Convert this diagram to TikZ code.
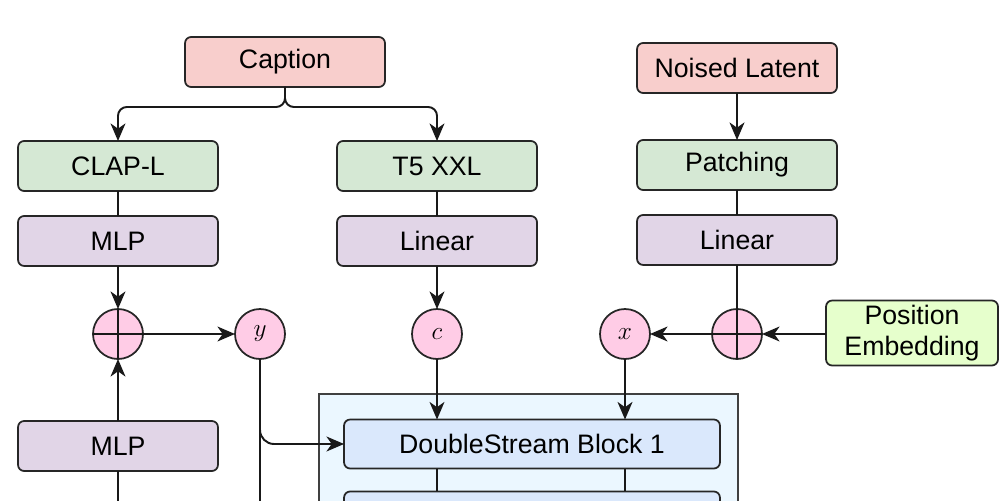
\documentclass[tikz,border=0pt]{standalone}
\usepackage{fontspec}
\setsansfont{Liberation Sans}
\usepackage{tikz}
\usetikzlibrary{arrows.meta,calc,positioning,shapes}
\definecolor{srcred}{HTML}{F8CECC}
\definecolor{encgreen}{HTML}{D5E8D4}
\definecolor{projpurple}{HTML}{E1D5E7}
\definecolor{varpink}{HTML}{FFCCE6}
\definecolor{poslime}{HTML}{E6FFCC}
\definecolor{blockblue}{HTML}{DAE8FC}
\definecolor{stackblue}{HTML}{EBF7FF}
\newdimen\hdim
\newdimen\wdim
\hdim=1cm
\wdim=4cm
\tikzstyle{element}=[
  draw=black!85,
  font={\fontsize{15.2}{18}\selectfont\sffamily},
  inner sep=0pt,
  minimum height=\hdim,
  minimum width=\wdim,
  outer sep=0pt,
  rectangle,
  rounded corners=3.5pt,
  text centered,
  line width=1pt,
]
\tikzstyle{source}=[element, fill=srcred]
\tikzstyle{encoder}=[element, fill=encgreen]
\tikzstyle{proj}=[element, fill=projpurple]
\tikzstyle{block}=[
  element,
  fill=blockblue,
  minimum width=7.52cm,
  minimum height=.98\hdim,
]
\tikzstyle{container}=[
  draw=black!75,
  fill=stackblue,
  inner sep=0pt,
  minimum width=8.38cm,
  minimum height=2.74cm,
  line width=1pt,
]
\tikzstyle{var}=[
  draw=black!85,
  circle,
  fill=varpink,
  font={\fontsize{15}{17}\selectfont},
  inner sep=0pt,
  minimum size=\hdim,
  outer sep=0pt,
  line width=1pt,
]
\tikzstyle{sum}=[var]
\tikzstyle{arrow}=[
  color=black!90,
  draw=black!90,
  line width=1.1pt,
]
\tikzstyle{flow}=[
  arrow,
  -{Stealth[length=10pt,width=8.5pt,inset=3pt]},
]
\tikzset{
  node distance=.5\hdim,
}

\begin{document}
\begin{tikzpicture}[x=0.02cm, y=-0.02cm]
      \useasboundingbox (0,0) rectangle (1000,500);
      \clip (0,0) rectangle (1000,500);
      %% caption branch
      \node (caption) [source] at (285,62) {Caption};
      \node (clap) [encoder] at (118,166) {CLAP-L};
      \node (mlpa) [proj, below=of clap] {MLP};
      \node (t5) [encoder] at (437,166) {T5 XXL};
      \node (lina) [proj, below=of t5] {Linear};
      %% latent branch
      \node (latent) [source] at (737,68) {Noised Latent};
      \node (patch) [encoder] at (737,165) {Patching};
      \node (linb) [proj, below=of patch] {Linear};
      %% conditioning
      \node (suma) [sum] at (118,334) {};
      \node (y) [var] at (260,334) {$y$};
      \node (c) [var] at (437,334) {$c$};
      \node (x) [var] at (625,334) {$x$};
      \node (sumb) [sum] at (737,334) {};
      \node (posemb) [element, fill=poslime, align=center,
        minimum width=3.44cm, minimum height=1.3\hdim] at (912,333)
        {Position\\Embedding};
      \node (mlpb) [proj] at (118,446) {MLP};
      %% double stream stack
      \node (stack) [container, anchor=north west] at (318,393) {};
      \node (dsa) [block] at (532,444) {DoubleStream Block 1};
      \node (dsb) [block, below=.46\hdim of dsa] {};
      \coordinate (bottom) at (0,520);
      %%
      \draw [flow, rounded corners=5pt] (caption.south) -- ++(0,20) -| (clap.north);
      \draw [flow, rounded corners=5pt] (caption.south) -- ++(0,20) -| (t5.north);
      \draw [arrow] (clap) -- (mlpa);
      \draw [flow] (mlpa) -- (suma);
      \draw [flow] (mlpb) -- (suma);
      \draw [arrow] (mlpb) -- (mlpb |- bottom);
      \draw [arrow] (suma.north) -- (suma.south);
      \draw [arrow] (suma.west) -- (suma.east);
      \draw [flow] (suma) -- (y);
      \draw [arrow] (t5) -- (lina);
      \draw [flow] (lina) -- (c);
      \draw [flow] (c) -- (c |- dsa.north);
      \draw [flow, rounded corners=8pt] (y) |- (dsa.west);
      \draw [arrow] (y) -- (y |- bottom);
      \draw [flow] (latent) -- (patch);
      \draw [arrow] (patch) -- (linb);
      \draw [arrow] (linb) -- (sumb);
      \draw [arrow] (sumb.north) -- (sumb.south);
      \draw [arrow] (sumb.west) -- (sumb.east);
      \draw [flow] (posemb.west |- sumb) -- (sumb);
      \draw [flow] (sumb) -- (x);
      \draw [flow] (x) -- (x |- dsa.north);
      \draw [arrow] (c |- dsa.south) -- (c |- dsb.north);
      \draw [arrow] (x |- dsa.south) -- (x |- dsb.north);
\end{tikzpicture}
\end{document}
